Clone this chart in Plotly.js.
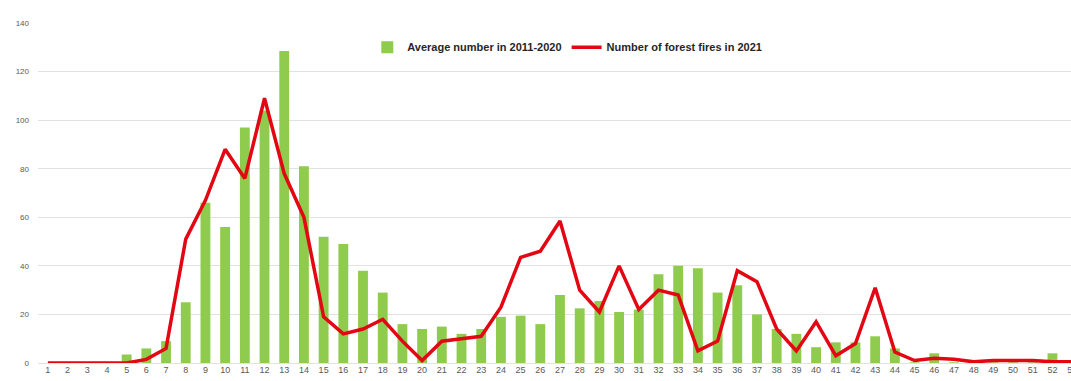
<!DOCTYPE html>
<html>
<head>
<meta charset="utf-8">
<script src="https://cdn.plot.ly/plotly-3.0.1.min.js"></script>
<style>
html, body { margin: 0; padding: 0; overflow: hidden; background: #fff; width: 1071px; height: 381px; }
#chart { width: 1082px; height: 381px; }
</style>
</head>
<body>
<div id="chart"></div>
<script>
const weeks = [];
for (let w = 1; w <= 53; w++) weeks.push(w);
const weekLabels = weeks.map(String);

const avg2011_2020 = [0, 0, 0, 0, 3.5, 6, 9, 25, 66, 56,
  97, 104, 128.5, 81, 52, 49, 38, 29, 16, 14,
  15, 12, 14, 19, 19.5, 16, 28, 22.5, 25.5, 21,
  22, 36.5, 40, 39, 29, 32, 20, 14, 12, 6.5,
  8.5, 8.5, 11, 6, 0.3, 4, 0.3, 0.3, 0.3, 0.3,
  0.3, 4, 0];

const fires2021 = [0, 0, 0, 0, 0, 1.5, 6, 51, 67, 88,
  76, 109, 78, 60, 19, 12, 14, 18, 9, 1,
  9, 10, 11, 23, 43.5, 46, 58.5, 30, 21, 40,
  22, 30, 28, 5, 9, 38, 33.5, 14, 5, 17,
  3, 8, 31, 4.5, 1, 2, 1.5, 0.5, 1, 1,
  1, 0.5, 0.5];

const yTicks = [0, 20, 40, 60, 80, 100, 120, 140];

const traces = [
  {
    type: 'bar',
    x: weeks,
    y: avg2011_2020,
    name: '<b>Average number in 2011-2020</b>',
    marker: { color: '#8fcc4e' },
    hoverinfo: 'x+y'
  },
  {
    type: 'scatter',
    mode: 'lines',
    x: weeks,
    y: fires2021,
    name: '<b>Number of forest fires in 2021</b>',
    line: { color: '#e30613', width: 3.5 },
    cliponaxis: false
  }
];

const layout = {
  width: 1082,
  height: 381,
  autosize: false,
  margin: { l: 38, r: 0, t: 23, b: 18 },
  paper_bgcolor: '#ffffff',
  plot_bgcolor: '#ffffff',
  font: { family: 'Liberation Sans, Arial, sans-serif', color: '#595959', size: 9 },
  bargap: 0.5,
  showlegend: true,
  legend: {
    orientation: 'h',
    x: 0.507,
    xanchor: 'center',
    y: 0.929,
    yanchor: 'middle',
    font: { family: 'Liberation Sans Narrow, Liberation Sans, Arial, sans-serif', size: 11, color: '#262626' },
    bgcolor: 'rgba(0,0,0,0)',
    itemwidth: 30
  },
  xaxis: {
    type: 'linear',
    range: [0.5, 53.5],
    tickmode: 'array',
    tickvals: weeks,
    ticktext: weekLabels,
    showgrid: false,
    zeroline: false,
    showline: false,
    ticks: '',
    tickfont: { size: 9, color: '#595959' },
    fixedrange: true
  },
  yaxis: {
    range: [0, 140],
    tickmode: 'array',
    tickvals: yTicks,
    ticktext: yTicks.map(String),
    showgrid: true,
    gridcolor: '#e2e2e2',
    gridwidth: 1,
    zeroline: true,
    zerolinecolor: '#e2e2e2',
    zerolinewidth: 1,
    showline: false,
    ticks: '',
    ticklabelstandoff: 8,
    tickfont: { size: 8, color: '#595959' },
    fixedrange: true
  }
};

Plotly.newPlot('chart', traces, layout, { displayModeBar: false, staticPlot: true });
</script>
</body>
</html>
